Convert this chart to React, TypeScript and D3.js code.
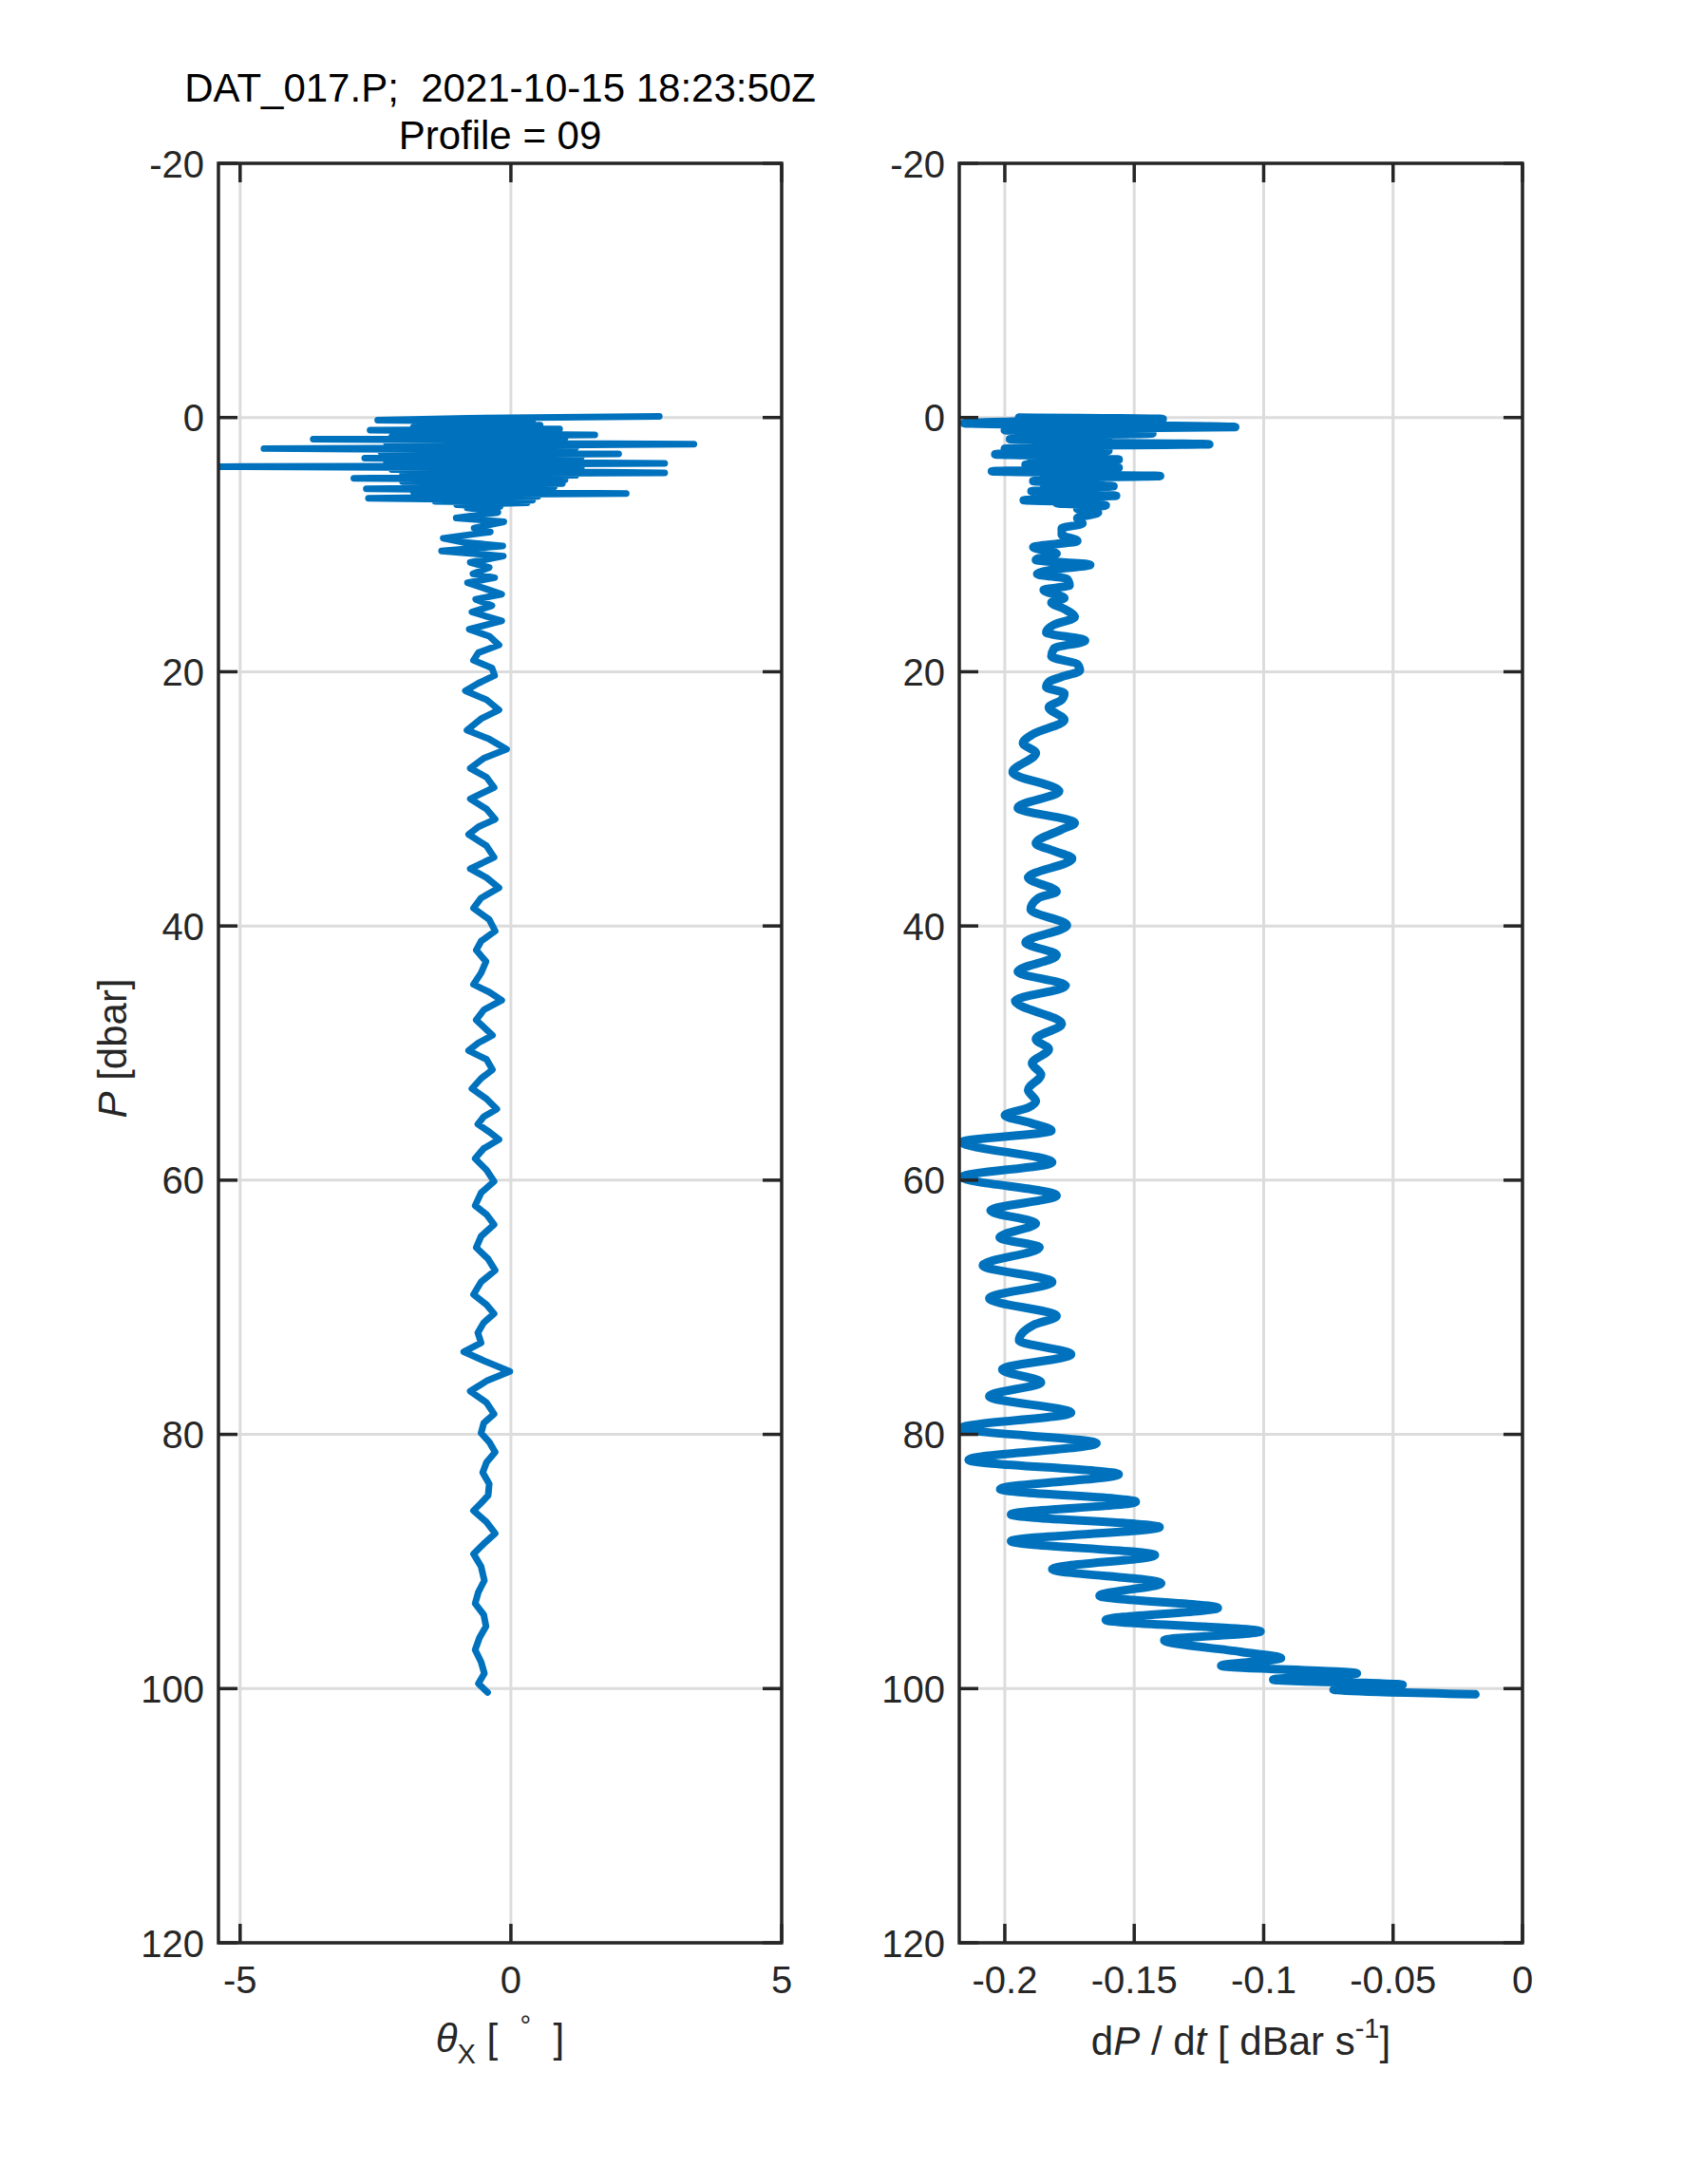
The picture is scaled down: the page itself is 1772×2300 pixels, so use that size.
import React from 'react';
import * as d3 from 'd3';

// pressure [dbar] and pitch angle theta_X [deg] (left panel)
const thetaP = [
  -0.1, 0.05, 0.2, 0.35, 0.45, 0.6, 0.75, 0.9, 1.0, 1.15, 1.25, 1.37, 1.5, 1.6, 1.7, 1.85, 1.95, 2.1, 2.25, 2.35,
  2.44, 2.6, 2.7, 2.86, 3.0, 3.1, 3.2, 3.35, 3.45, 3.6, 3.72, 3.8, 3.86, 4.0, 4.1, 4.35, 4.45, 4.55, 4.78, 4.9,
  5.05, 5.2, 5.35, 5.45, 5.6, 5.75, 5.85, 5.97, 6.1, 6.2, 6.35, 6.5, 6.6, 6.7, 6.85, 7.0, 7.1, 7.47, 7.9, 8.2,
  8.7, 9.0, 9.5, 9.8, 10.1, 10.5, 10.9, 11.4, 11.8, 12.3, 12.6, 13.0, 13.5, 13.9, 14.3, 14.8,
  15.3, 16.0, 16.65, 17.2, 17.9, 18.5, 19.1, 19.7, 20.3, 20.9, 21.5, 22.2, 23.0, 23.7, 24.6, 25.3, 26.1, 26.8, 27.6, 28.3,
  29.1, 30.0, 30.8, 31.6, 32.2, 32.8, 33.7, 34.6, 35.5, 36.2, 37.0, 37.8, 38.6, 39.5, 40.4, 41.2, 41.9, 42.8, 43.7, 44.6,
  45.2, 45.85, 46.6, 47.4, 48.6, 49.2, 49.8, 50.5, 51.3, 52.0, 52.8, 53.6, 54.4, 55.0, 55.6, 56.2, 56.8, 57.5, 58.3, 59.2,
  60.1, 61.0, 62.0, 62.7, 63.5, 64.4, 65.3, 66.2, 67.1, 68.0, 69.0, 69.8, 70.5, 71.2, 72.0, 72.8, 73.5, 74.2, 75.05, 75.8,
  76.6, 77.5, 78.4, 79.1, 79.9, 80.6, 81.4, 82.2, 83.0, 83.9, 84.8, 85.4, 86.0, 86.9, 87.8, 88.6, 89.4, 90.4, 91.5, 92.4,
  93.3, 94.2, 95.1, 96.0, 96.95, 97.9, 98.8, 99.6, 100.3,
];
const thetaX = [
  2.74, -0.8, -2.46, 0.4, -1.5, 0.54, -1.8, 0.9, -2.6, 0.8, -2.0, 1.55, -2.2, 1.0, -3.65, 0.9, -2.3, 3.38, -2.0, 1.2,
  -4.56, 1.0, -2.4, 1.99, -2.2, 1.3, -2.7, 1.1, -2.3, 2.84, -2.1, 1.2, -5.37, 1.3, -2.2, 2.84, -2.0, 1.2, -2.9, 1.0,
  -2.0, 0.95, -1.9, 0.8, -2.67, 0.7, -1.8, 2.13, -1.6, 0.5, -2.63, 0.4, -1.4, 0.3, -1.0, -0.2, -0.81, -0.24, -1.01, -0.13,
  -0.68, -0.38, -1.25, -0.9, -0.15, -1.28, -0.14, -0.75, -0.4, -0.7, -0.3, -0.8, -0.45, -0.17, -0.65, -0.35,
  -0.72, -0.17, -0.77, -0.4, -0.22, -0.6, -0.69, -0.35, -0.3, -0.6, -0.84, -0.45, -0.22, -0.55, -0.81, -0.4, -0.08, -0.5, -0.75, -0.45,
  -0.31, -0.75, -0.45, -0.29, -0.6, -0.78, -0.45, -0.31, -0.75, -0.45, -0.22, -0.55, -0.69, -0.4, -0.29, -0.55, -0.64, -0.46, -0.55, -0.69,
  -0.4, -0.17, -0.5, -0.64, -0.34, -0.6, -0.78, -0.45, -0.34, -0.55, -0.72, -0.45, -0.26, -0.5, -0.61, -0.4, -0.22, -0.5, -0.66, -0.45,
  -0.31, -0.55, -0.66, -0.45, -0.31, -0.55, -0.64, -0.42, -0.29, -0.55, -0.69, -0.45, -0.31, -0.5, -0.61, -0.55, -0.87, -0.5, -0.02, -0.45,
  -0.75, -0.45, -0.31, -0.5, -0.55, -0.4, -0.29, -0.45, -0.52, -0.4, -0.42, -0.55, -0.69, -0.45, -0.29, -0.5, -0.69, -0.55, -0.49, -0.6,
  -0.66, -0.5, -0.46, -0.58, -0.66, -0.55, -0.49, -0.6, -0.43,
];

// pressure [dbar] and fall rate dP/dt [dBar/s] (right panel)
const ratePressure = [
  0.0, 0.12, 0.3, 0.45, 0.6, 0.75, 0.9, 1.0, 1.12, 1.25, 1.4, 1.55, 1.7, 1.85, 1.95, 2.1, 2.25, 2.35, 2.45, 2.6,
  2.75, 2.9, 3.05, 3.15, 3.3, 3.45, 3.55, 3.7, 3.82, 3.95, 4.1, 4.23, 4.38, 4.5, 4.6, 4.75, 4.85, 5.0, 5.15, 5.25,
  5.4, 5.55, 5.65, 5.8, 5.95, 6.05, 6.15, 6.3, 6.4, 6.5, 6.65, 6.75, 6.9, 7.2, 7.47, 7.92, 8.34, 8.71, 9.21, 9.71,
  10.2, 10.7, 11.2, 11.58, 11.95, 12.3, 12.7, 13.2, 13.57, 14.2, 14.56, 15.06,
  15.7, 16.3, 16.9, 17.55, 18.17, 18.8, 19.4, 19.9, 20.4, 20.8, 21.2, 21.7, 22.2, 22.8, 23.8, 24.9, 25.6, 26.4, 27.9, 29.4,
  30.7, 31.9, 32.4, 33.5, 34.1, 34.7, 36.2, 37.3, 37.8, 38.7, 39.95, 41.3, 42.3, 43.6, 44.7, 45.9, 47.7, 48.9, 49.7, 50.8,
  51.7, 52.9, 53.8, 54.3, 54.9, 55.5, 56.1, 57.0, 58.6, 59.75, 61.2, 62.4, 63.4, 64.5, 65.3, 66.7, 68.0, 69.3, 70.7, 71.4,
  72.6, 73.7, 74.9, 75.9, 77.0, 78.3, 79.5, 80.7, 82.0, 83.15, 84.3, 85.3, 86.3, 87.3, 88.4, 89.5, 90.6, 91.7, 92.7, 93.65,
  94.6, 95.5, 96.2, 97.1, 97.6, 98.2, 98.8, 99.3, 99.7, 100.07, 100.45,
];
const rateValue = [
  -0.1945, -0.139, -0.19, -0.2158, -0.16, -0.111, -0.19, -0.2, -0.165, -0.143, -0.185, -0.16, -0.198, -0.16, -0.185, -0.121, -0.19, -0.165, -0.2, -0.16,
  -0.19, -0.2037, -0.165, -0.19, -0.156, -0.185, -0.16, -0.192, -0.185, -0.156, -0.17, -0.205, -0.165, -0.185, -0.14, -0.18, -0.165, -0.189, -0.165, -0.185,
  -0.158, -0.18, -0.165, -0.1897, -0.165, -0.185, -0.157, -0.18, -0.168, -0.1927, -0.168, -0.18, -0.161, -0.172, -0.164, -0.172, -0.17, -0.178, -0.178, -0.172,
  -0.189, -0.18, -0.188, -0.167, -0.181, -0.1875, -0.176, -0.175, -0.185, -0.177, -0.182, -0.177,
  -0.173, -0.181, -0.184, -0.169, -0.181, -0.182, -0.172, -0.171, -0.178, -0.183, -0.184, -0.177, -0.178, -0.183, -0.177, -0.189, -0.193, -0.188, -0.197, -0.179,
  -0.195, -0.173, -0.178, -0.188, -0.181, -0.174, -0.191, -0.18, -0.187, -0.19, -0.176, -0.192, -0.18, -0.195, -0.1765, -0.196, -0.178, -0.188, -0.183, -0.1895,
  -0.186, -0.191, -0.188, -0.191, -0.2, -0.19, -0.182, -0.2165, -0.1817, -0.2165, -0.18, -0.2055, -0.188, -0.202, -0.1866, -0.2085, -0.1817, -0.206, -0.18, -0.189,
  -0.1945, -0.1744, -0.201, -0.186, -0.206, -0.1744, -0.217, -0.1646, -0.214, -0.156, -0.2018, -0.1494, -0.1976, -0.1402, -0.1976, -0.142, -0.1817, -0.1396, -0.1634, -0.1177,
  -0.161, -0.1012, -0.1384, -0.109, -0.0933, -0.1164, -0.064, -0.0963, -0.0463, -0.073, -0.0182,
];

const pTicks = [-20, 0, 20, 40, 60, 80, 100, 120];
const thetaTicks = [-5, 0, 5];
const rateTicks = [-0.2, -0.15, -0.1, -0.05, 0];

const W = 1772;
const H = 2300;
const TOP = 172;
const BOTTOM = 2046;
const FONT = '"Liberation Sans", Arial, Helvetica, sans-serif';
const AXIS = '#262626';
const GRID = '#dcdcdc';
const LINE = '#0072BD';

const yScale = d3.scaleLinear().domain([-20, 120]).range([TOP, BOTTOM]);

interface PanelProps {
  id: string;
  x: d3.ScaleLinear<number, number>;
  xTicks: number[];
  p: number[];
  v: number[];
  curve: d3.CurveFactory;
  lineWidth: number;
}

function Panel({ id, x, xTicks, p, v, curve, lineWidth }: PanelProps) {
  const [x0, x1] = x.range();
  const pts: [number, number][] = p.map((d, i) => [v[i], d]);
  const line = d3.line<[number, number]>()
    .x(d => x(d[0]))
    .y(d => yScale(d[1]))
    .curve(curve);
  const tickLen = 20;
  return (
    <g>
      <defs>
        <clipPath id={`clip-${id}`}>
          <rect x={x0} y={TOP} width={x1 - x0} height={BOTTOM - TOP} />
        </clipPath>
      </defs>
      {/* grid */}
      {pTicks.map(t => (
        <line key={`gy${t}`} x1={x0} x2={x1} y1={yScale(t)} y2={yScale(t)} stroke={GRID} strokeWidth={3} />
      ))}
      {xTicks.map(t => (
        <line key={`gx${t}`} x1={x(t)} x2={x(t)} y1={TOP} y2={BOTTOM} stroke={GRID} strokeWidth={3} />
      ))}
      {/* data */}
      <path d={line(pts) ?? ''} fill="none" stroke={LINE} strokeWidth={lineWidth}
        strokeLinejoin="round" strokeLinecap="round" clipPath={`url(#clip-${id})`} />
      {/* ticks */}
      {pTicks.map(t => (
        <g key={`ty${t}`} stroke={AXIS} strokeWidth={3.5}>
          <line x1={x0} x2={x0 + tickLen} y1={yScale(t)} y2={yScale(t)} />
          <line x1={x1} x2={x1 - tickLen} y1={yScale(t)} y2={yScale(t)} />
        </g>
      ))}
      {xTicks.map(t => (
        <g key={`tx${t}`} stroke={AXIS} strokeWidth={3.5}>
          <line x1={x(t)} x2={x(t)} y1={TOP} y2={TOP + tickLen} />
          <line x1={x(t)} x2={x(t)} y1={BOTTOM} y2={BOTTOM - tickLen} />
        </g>
      ))}
      <rect x={x0} y={TOP} width={x1 - x0} height={BOTTOM - TOP} fill="none" stroke={AXIS} strokeWidth={3.5} />
      {/* tick labels */}
      {pTicks.map(t => (
        <text key={`ly${t}`} x={x0 - 15} y={yScale(t) + 14.5} textAnchor="end" fontSize={40} fill={AXIS}>{t}</text>
      ))}
      {xTicks.map(t => (
        <text key={`lx${t}`} x={x(t)} y={2099} textAnchor="middle" fontSize={40} fill={AXIS}>{String(t)}</text>
      ))}
    </g>
  );
}

export default function App() {
  const xLeft = d3.scaleLinear().domain([-5.4, 5]).range([230, 823]);
  const xRight = d3.scaleLinear().domain([-0.2176, 0]).range([1010, 1603]);
  const cL = (230 + 823) / 2;
  const cR = (1010 + 1603) / 2;
  return (
    <svg width={W} height={H} viewBox={`0 0 ${W} ${H}`}
      style={{ position: 'absolute', left: 0, top: 0, background: '#fff', fontFamily: FONT }}>
      <rect width={W} height={H} fill="#fff" />
      <Panel id="theta" x={xLeft} xTicks={thetaTicks} p={thetaP} v={thetaX} curve={d3.curveLinear} lineWidth={7} />
      <Panel id="rate" x={xRight} xTicks={rateTicks} p={ratePressure} v={rateValue} curve={d3.curveMonotoneY} lineWidth={9} />

      {/* title */}
      <text x={cL} y={107} textAnchor="middle" fontSize={42} fill="#000" style={{ whiteSpace: 'pre' }}>
        {'DAT_017.P;  2021-10-15 18:23:50Z'}
      </text>
      <text x={cL} y={157} textAnchor="middle" fontSize={42} fill="#000">Profile = 09</text>

      {/* y label */}
      <text transform={`translate(133,1104) rotate(-90)`} textAnchor="middle" fontSize={42} fill={AXIS}
        style={{ whiteSpace: 'pre' }}>
        <tspan fontStyle="italic">P</tspan>
        <tspan>{' [dbar]'}</tspan>
      </text>

      {/* x labels */}
      <text x={cL} y={2161} textAnchor="middle" fontSize={42} fill={AXIS} style={{ whiteSpace: 'pre' }}>
        <tspan fontStyle="italic">θ</tspan>
        <tspan fontSize={29} dy={12}>X</tspan>
        <tspan dy={-12}>{' [  '}</tspan>
        <tspan fontSize={29} dy={-18}>°</tspan>
        <tspan dy={18}>{'  ]'}</tspan>
      </text>
      <text x={cR} y={2164} textAnchor="middle" fontSize={42} fill={AXIS} style={{ whiteSpace: 'pre' }}>
        <tspan>d</tspan>
        <tspan fontStyle="italic">P</tspan>
        <tspan>{' / d'}</tspan>
        <tspan fontStyle="italic">t</tspan>
        <tspan>{' [ dBar s'}</tspan>
        <tspan fontSize={29} dy={-18}>-1</tspan>
        <tspan dy={18}>]</tspan>
      </text>
    </svg>
  );
}
